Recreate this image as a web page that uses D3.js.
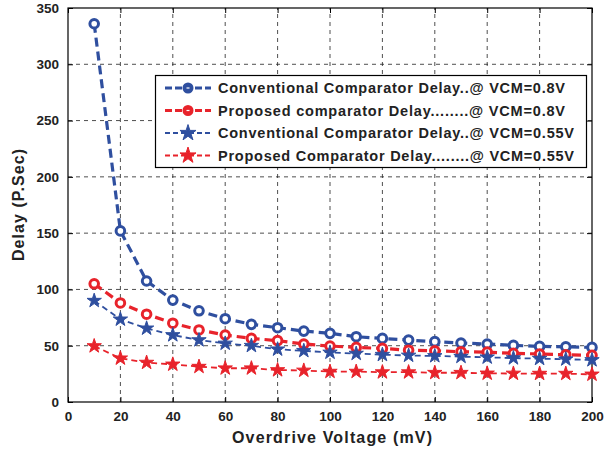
<!DOCTYPE html>
<html>
<head>
<meta charset="utf-8">
<script src="https://cdn.jsdelivr.net/npm/d3@7"></script>
<style>
  body { margin: 0; background: #fff; }
  svg { display: block; font-family: "Liberation Sans", Arial, sans-serif; }
</style>
</head>
<body>
<svg id="chart" width="610" height="452"></svg>
<script>
// Overdrive voltage sweep (mV)
const overdrive = [10, 20, 30, 40, 50, 60, 70, 80, 90, 100, 110, 120, 130, 140, 150, 160, 170, 180, 190, 200];

// Delay in ps for each comparator / common-mode voltage
const convDelay08  = [336, 152, 107.5, 90.5, 81, 74, 69, 66, 63, 61, 58, 56.5, 55, 53.6, 52.4, 51.5, 50.3, 49.4, 49, 48.5];
const propDelay08  = [105, 88, 78, 70, 64, 59.5, 56.5, 54.5, 51.5, 49.7, 48.5, 47.6, 46, 45.5, 44.7, 44.3, 43.2, 42.7, 42, 41.5];
const convDelay055 = [90, 73.4, 65.4, 59.5, 55, 52, 50, 46.8, 45.5, 44, 43, 42, 41.3, 40.9, 40.3, 39.7, 39, 38.5, 38, 37.3];
const propDelay055 = [49.7, 38.8, 35, 33.4, 31.4, 30, 30, 28.4, 28, 27, 27, 26.5, 26.5, 26, 26, 25.4, 25.3, 25.2, 25.2, 24.5];

const seriesNames = [
  "Conventional Comparator Delay..@ VCM=0.8V",
  "Proposed comparator Delay........@ VCM=0.8V",
  "Conventional Comparator Delay..@ VCM=0.55V",
  "Proposed Comparator Delay........@ VCM=0.55V"
];

const xTicks = [0, 20, 40, 60, 80, 100, 120, 140, 160, 180, 200];
const yTicks = [0, 50, 100, 150, 200, 250, 300, 350];

const BLUE = "#2f4f9f";
const RED = "#e8232b";

const series = [
  { name: seriesNames[0], values: convDelay08,  color: BLUE, marker: "circle", width: 3.2, dash: "9,5", textLen: 347 },
  { name: seriesNames[1], values: propDelay08,  color: RED,  marker: "circle", width: 3.2, dash: "9,5", textLen: 347 },
  { name: seriesNames[2], values: convDelay055, color: BLUE, marker: "star",   width: 1.8, dash: "6,4", textLen: 356 },
  { name: seriesNames[3], values: propDelay055, color: RED,  marker: "star",   width: 1.8, dash: "6,4", textLen: 356 }
];

const svg = d3.select("#chart");
const margin = { left: 68, right: 18, top: 8, bottom: 50 };
const W = 610, H = 452;
const plotW = W - margin.left - margin.right;
const plotH = H - margin.top - margin.bottom;

const x = d3.scaleLinear().domain([0, 200]).range([margin.left, margin.left + plotW]);
const y = d3.scaleLinear().domain([0, 350]).range([margin.top + plotH, margin.top]);

// Dashed grid
const grid = svg.append("g").attr("stroke", "#222").attr("stroke-width", 0.8).attr("stroke-dasharray", "4,4");
grid.selectAll("line.v").data(xTicks.slice(1, -1)).join("line")
  .attr("x1", d => x(d)).attr("x2", d => x(d))
  .attr("y1", y(0)).attr("y2", y(350));
grid.selectAll("line.h").data(yTicks.slice(1, -1)).join("line")
  .attr("x1", x(0)).attr("x2", x(200))
  .attr("y1", d => y(d)).attr("y2", d => y(d));

// Axes with inward ticks on all four sides
const tickLen = 5;
const axisStyle = g => {
  g.select(".domain").remove();
  g.selectAll(".tick line").attr("stroke", "#000").attr("stroke-width", 1);
  g.selectAll(".tick text").attr("font-size", "13.5px").attr("font-weight", "bold").attr("fill", "#222")
    .attr("font-family", "'Liberation Sans', Arial, sans-serif");
};
svg.append("g").attr("transform", `translate(0,${y(0)})`)
  .call(d3.axisBottom(x).tickValues(xTicks).tickSize(-tickLen).tickPadding(9))
  .call(axisStyle);
svg.append("g").attr("transform", `translate(0,${y(350)})`)
  .call(d3.axisTop(x).tickValues(xTicks).tickSize(-tickLen).tickFormat(""))
  .call(axisStyle);
svg.append("g").attr("transform", `translate(${x(0)},0)`)
  .call(d3.axisLeft(y).tickValues(yTicks).tickSize(-tickLen).tickPadding(9))
  .call(axisStyle);
svg.append("g").attr("transform", `translate(${x(200)},0)`)
  .call(d3.axisRight(y).tickValues(yTicks).tickSize(-tickLen).tickFormat(""))
  .call(axisStyle);

// Frame
svg.append("rect")
  .attr("x", x(0)).attr("y", y(350))
  .attr("width", x(200) - x(0)).attr("height", y(0) - y(350))
  .attr("fill", "none").attr("stroke", "#000").attr("stroke-width", 1.2);

// Marker drawing
const starPath = d3.symbol().type(d3.symbolStar).size(64)();
const starPathLegend = d3.symbol().type(d3.symbolStar).size(80)();
function drawMarker(g, s, cx, cy, inLegend) {
  if (s.marker === "circle") {
    g.append("circle").attr("cx", cx).attr("cy", cy).attr("r", inLegend ? 4 : 4.3)
      .attr("fill", inLegend ? s.color : "#fff").attr("stroke", s.color).attr("stroke-width", 3);
    if (inLegend) {
      g.append("line").attr("x1", cx - 1.5).attr("x2", cx + 1.5).attr("y1", cy).attr("y2", cy)
        .attr("stroke", "#fff").attr("stroke-width", 1.2);
    }
  } else {
    g.append("path").attr("d", inLegend ? starPathLegend : starPath).attr("transform", `translate(${cx},${cy})`)
      .attr("fill", s.color).attr("stroke", s.color).attr("stroke-width", 1);
  }
}

const line = d3.line().x((d, i) => x(overdrive[i])).y(d => y(d));
series.forEach(s => {
  const g = svg.append("g");
  g.append("path").datum(s.values).attr("d", line)
    .attr("fill", "none").attr("stroke", s.color).attr("stroke-width", s.width)
    .attr("stroke-dasharray", s.dash);
  s.values.forEach((v, i) => drawMarker(g, s, x(overdrive[i]), y(v), false));
});

// Legend
const lg = svg.append("g");
lg.append("rect").attr("x", 155.5).attr("y", 75.5).attr("width", 431).attr("height", 92)
  .attr("fill", "#fff").attr("stroke", "#000").attr("stroke-width", 1.2);
const legendY = [88, 110.5, 133, 155.5];
series.forEach((s, i) => {
  const ly = legendY[i];
  lg.append("line").attr("x1", 165).attr("x2", 211).attr("y1", ly).attr("y2", ly)
    .attr("stroke", s.color).attr("stroke-width", s.marker === "circle" ? 3 : 1.8)
    .attr("stroke-dasharray", s.marker === "circle" ? "7,3" : "5,3");
  drawMarker(lg, s, 188, ly, true);
  lg.append("text").attr("x", 218).attr("y", ly).attr("dy", "0.36em")
    .attr("font-size", "14.5px").attr("font-weight", "bold").attr("fill", "#222")
    .attr("textLength", s.textLen).attr("lengthAdjust", "spacing")
    .text(s.name);
});

// Axis titles
svg.append("text").attr("x", x(100) + 2).attr("y", 443).attr("text-anchor", "middle")
  .attr("font-size", "16px").attr("font-weight", "bold").attr("fill", "#222")
  .attr("textLength", 200).attr("lengthAdjust", "spacing")
  .text("Overdrive Voltage  (mV)");
svg.append("text").attr("transform", `translate(24,${y(175)}) rotate(-90)`).attr("text-anchor", "middle")
  .attr("font-size", "16px").attr("font-weight", "bold").attr("fill", "#222")
  .attr("textLength", 112).attr("lengthAdjust", "spacing")
  .text("Delay  (P.Sec)");
</script>
</body>
</html>
